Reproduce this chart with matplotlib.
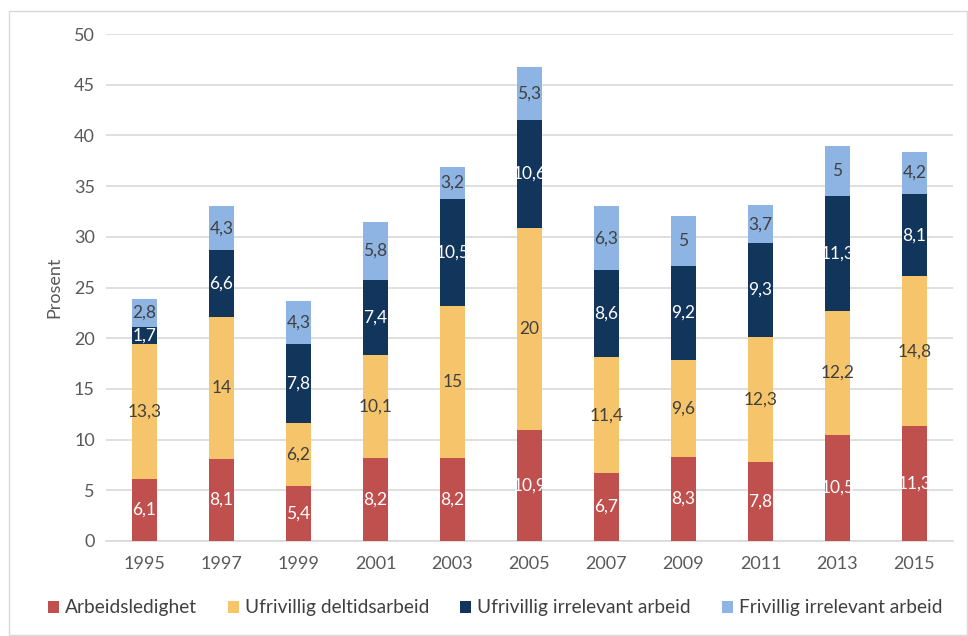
import matplotlib
matplotlib.use("Agg")
import matplotlib.pyplot as plt
import numpy as np

plt.rcParams['font.family'] = ['Lato', 'DejaVu Sans']

years = ["1995", "1997", "1999", "2001", "2003", "2005", "2007", "2009", "2011", "2013", "2015"]
arbeidsledighet = [6.1, 8.1, 5.4, 8.2, 8.2, 10.9, 6.7, 8.3, 7.8, 10.5, 11.3]
ufrivillig_deltid = [13.3, 14, 6.2, 10.1, 15, 20, 11.4, 9.6, 12.3, 12.2, 14.8]
ufrivillig_irrelevant = [1.7, 6.6, 7.8, 7.4, 10.5, 10.6, 8.6, 9.2, 9.3, 11.3, 8.1]
frivillig_irrelevant = [2.8, 4.3, 4.3, 5.8, 3.2, 5.3, 6.3, 5, 3.7, 5, 4.2]

series = [
    ("Arbeidsledighet", arbeidsledighet, "#C0504D", "white"),
    ("Ufrivillig deltidsarbeid", ufrivillig_deltid, "#F6C46A", "#404040"),
    ("Ufrivillig irrelevant arbeid", ufrivillig_irrelevant, "#12355B", "white"),
    ("Frivillig irrelevant arbeid", frivillig_irrelevant, "#8EB4E3", "#404040"),
]

def fmt(v):
    # norsk desimalkomma
    return ("%g" % v).replace(".", ",")

fig = plt.figure(figsize=(9.68, 6.36), dpi=100)
ax = fig.add_axes([0.1095, 0.1494, 0.875, 0.797])

x = np.arange(len(years))
bottom = np.zeros(len(years))
for name, vals, col, tcol in series:
    vals = np.array(vals)
    bars = ax.bar(x, vals, 0.32, bottom=bottom, color=col, label=name, zorder=3)
    ax.bar_label(bars, labels=[fmt(v) for v in vals], label_type="center",
                 color=tcol, fontsize=12.5)
    bottom += vals

ax.set_ylim(0, 50)
ax.set_xlim(-0.5, len(years) - 0.5)
ax.set_yticks(range(0, 51, 5))
ax.set_xticks(x)
ax.set_xticklabels(years)
ax.yaxis.grid(True, color="#D9D9D9", linewidth=1.2, zorder=0)
ax.tick_params(axis="both", length=0, labelsize=13, colors="#595959", pad=8)
ax.tick_params(axis="x", pad=11)
for s in ["top", "right", "left"]:
    ax.spines[s].set_visible(False)
ax.spines["bottom"].set_color("#D9D9D9")
ax.spines["bottom"].set_linewidth(1.2)
ax.set_ylabel("Prosent", fontsize=13, color="#595959", labelpad=8)

fig.legend(loc="center", bbox_to_anchor=(495 / 968, 28 / 636), ncol=4,
           frameon=False, fontsize=13.8, handlelength=0.6, handleheight=0.6,
           handletextpad=0.3, columnspacing=1.6, labelcolor="#404040")

fig.patches.append(plt.Rectangle((9 / 968, 1 / 636), 958 / 968, 624 / 636,
                                 transform=fig.transFigure, fill=False,
                                 edgecolor="#D9D9D9", linewidth=1))

fig.savefig("out.png", dpi=100)
